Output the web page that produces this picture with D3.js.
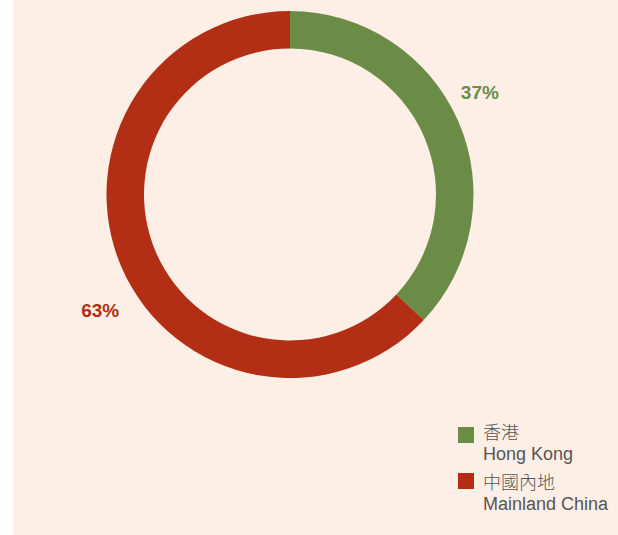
<!DOCTYPE html>
<html>
<head>
<meta charset="utf-8">
<script src="https://cdn.jsdelivr.net/npm/d3@7"></script>
<style>
  html, body { margin: 0; padding: 0; background: #fff; }
</style>
</head>
<body>
<div id="chart"></div>
<script>
// Donut chart: Hong Kong vs Mainland China share

const categoriesZh = ["香港", "中國內地"];
const categoriesEn = ["Hong Kong", "Mainland China"];
const shares = [37, 63];
const colors = ["#6b8c46", "#b22e15"];

(function () {
  const W = 618;
  const H = 535;

  const svg = d3.select("#chart").append("svg")
    .attr("width", W)
    .attr("height", H);

  // peach panel
  svg.append("rect")
    .attr("x", 13)
    .attr("y", 0)
    .attr("width", W - 13)
    .attr("height", H)
    .attr("fill", "#fdefe6");

  const cx = 290;
  const cy = 194.5;
  const outerR = 183.5;
  const innerR = 146;

  const data = shares.map((v, i) => ({ zh: categoriesZh[i], en: categoriesEn[i], value: v, color: colors[i] }));

  const pie = d3.pie()
    .value(d => d.value)
    .sort(null);

  const arc = d3.arc()
    .innerRadius(innerR)
    .outerRadius(outerR);

  const g = svg.append("g")
    .attr("transform", `translate(${cx},${cy})`);

  const arcs = pie(data);

  g.selectAll("path")
    .data(arcs)
    .join("path")
    .attr("d", arc)
    .attr("fill", d => d.data.color);

  // percentage labels, a bit off the middle of each slice
  const labelR = 219;
  const shift = -6.5 * Math.PI / 180;
  g.selectAll("text.pct")
    .data(arcs)
    .join("text")
    .attr("class", "pct")
    .attr("x", d => labelR * Math.sin((d.startAngle + d.endAngle) / 2 + shift))
    .attr("y", d => -labelR * Math.cos((d.startAngle + d.endAngle) / 2 + shift) + 7)
    .attr("text-anchor", "middle")
    .attr("dominant-baseline", "central")
    .attr("font-family", "'Liberation Sans', Arial, sans-serif")
    .attr("font-size", 19)
    .attr("font-weight", 700)
    .attr("fill", d => d.data.color)
    .text(d => d.data.value + "%");

  // legend
  const legend = svg.append("g")
    .attr("transform", "translate(458,427)");

  const item = legend.selectAll("g")
    .data(data)
    .join("g");

  item.append("rect")
    .attr("y", (d, i) => i * 46)
    .attr("width", 16)
    .attr("height", 16)
    .attr("fill", d => d.color);

  item.append("text")
    .attr("x", 25)
    .attr("y", (d, i) => 12 + i * 50)
    .attr("font-family", "'Noto Sans CJK TC', sans-serif")
    .attr("font-size", 18)
    .attr("font-weight", 300)
    .attr("fill", "#555")
    .text(d => d.zh);

  item.append("text")
    .attr("x", 25)
    .attr("y", (d, i) => 33 + i * 50)
    .attr("font-family", "'Liberation Sans', Arial, sans-serif")
    .attr("font-size", 18)
    .attr("fill", "#555")
    .text(d => d.en);
})();
</script>
</body>
</html>
